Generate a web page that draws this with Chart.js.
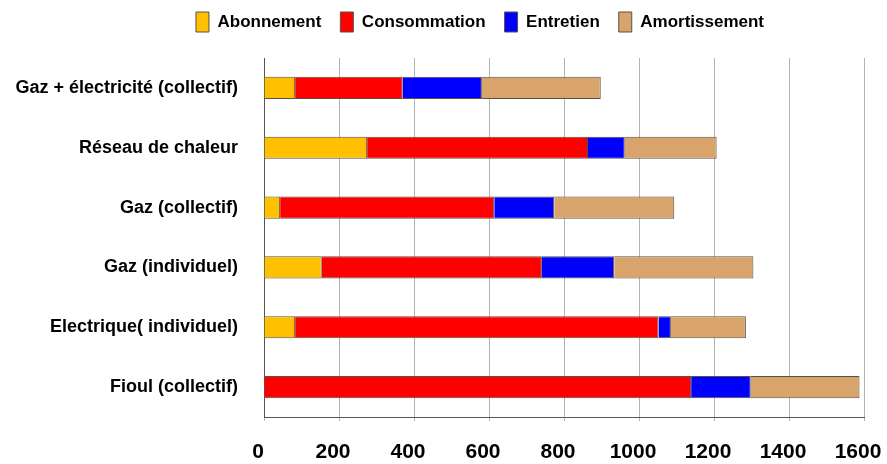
<!DOCTYPE html>
<html>
<head>
<meta charset="utf-8">
<script src="https://cdn.jsdelivr.net/npm/chart.js@4"></script>
<style>
html,body{margin:0;padding:0;background:#fff;}
#wrap{width:887px;height:464px;position:relative;}
</style>
</head>
<body>
<div id="wrap"><canvas id="c"></canvas></div>
<script>
const categories = ["Gaz + électricité (collectif)", "Réseau de chaleur", "Gaz (collectif)", "Gaz (individuel)", "Electrique( individuel)", "Fioul (collectif)"];
const abonnement   = [83, 275, 43, 154, 83, 0];
const consommation = [287, 589, 571, 587, 969, 1139];
const entretien    = [211, 98, 160, 193, 33, 159];
const amortissement= [317, 245, 320, 371, 200, 290];
const xTicks = [0, 200, 400, 600, 800, 1000, 1200, 1400, 1600];

const FONT = "'Liberation Sans', Arial, sans-serif";

const legendShift = {
  id: 'legendShift',
  afterLayout(chart) {
    const lg = chart.legend;
    if (!lg) return;
    lg.left += 48; lg.right += 48;
    lg.top -= 16; lg.bottom -= 16;
  }
};

function ds(label, data, color) {
  return {label, data, backgroundColor: color, borderColor: '#5a5046', borderWidth: 1,
          barPercentage: 0.37, categoryPercentage: 1.0};
}

new Chart(document.getElementById('c'), {
  type: 'bar',
  data: {
    labels: categories,
    datasets: [
      ds('Abonnement', abonnement, '#FFC000'),
      ds('Consommation', consommation, '#FF0000'),
      ds('Entretien', entretien, '#0000FF'),
      ds('Amortissement', amortissement, '#D9A46C')
    ]
  },
  options: {
    indexAxis: 'y',
    responsive: true,
    maintainAspectRatio: false,
    animation: false,
    layout: {padding: {top: 9, right: 23, left: 0, bottom: 0}},
    plugins: {
      legend: {
        position: 'top',
        labels: {
          boxWidth: 13, boxHeight: 20, padding: 19, color: '#000',
          font: {family: FONT, size: 17, weight: 'bold'}
        }
      },
      tooltip: {enabled: false}
    },
    scales: {
      x: {
        stacked: true, min: 0, max: 1600,
        afterBuildTicks: (s) => { s.ticks = xTicks.map(v => ({value: v})); },
        afterFit: (s) => { s.height = 47; s.paddingLeft = 0; s.paddingRight = 0; },
        grid: {color: '#b4b4b4', lineWidth: 1, tickLength: 4, drawTicks: true},
        border: {color: '#555', width: 1},
        ticks: {color: '#000', padding: 20, maxRotation: 0, autoSkip: false, labelOffset: -6,
                callback: (v) => String(v),
                font: {family: FONT, size: 21, weight: 'bold', lineHeight: 1.1}}
      },
      y: {
        stacked: true,
        afterFit: (s) => { s.width = 264; s.paddingTop = 0; s.paddingBottom = 0; },
        grid: {display: false, drawTicks: false},
        border: {color: '#555', width: 1},
        ticks: {color: '#000', padding: 26,
                font: {family: FONT, size: 18, weight: 'bold'}}
      }
    }
  },
  plugins: [legendShift]
});
</script>
</body>
</html>
